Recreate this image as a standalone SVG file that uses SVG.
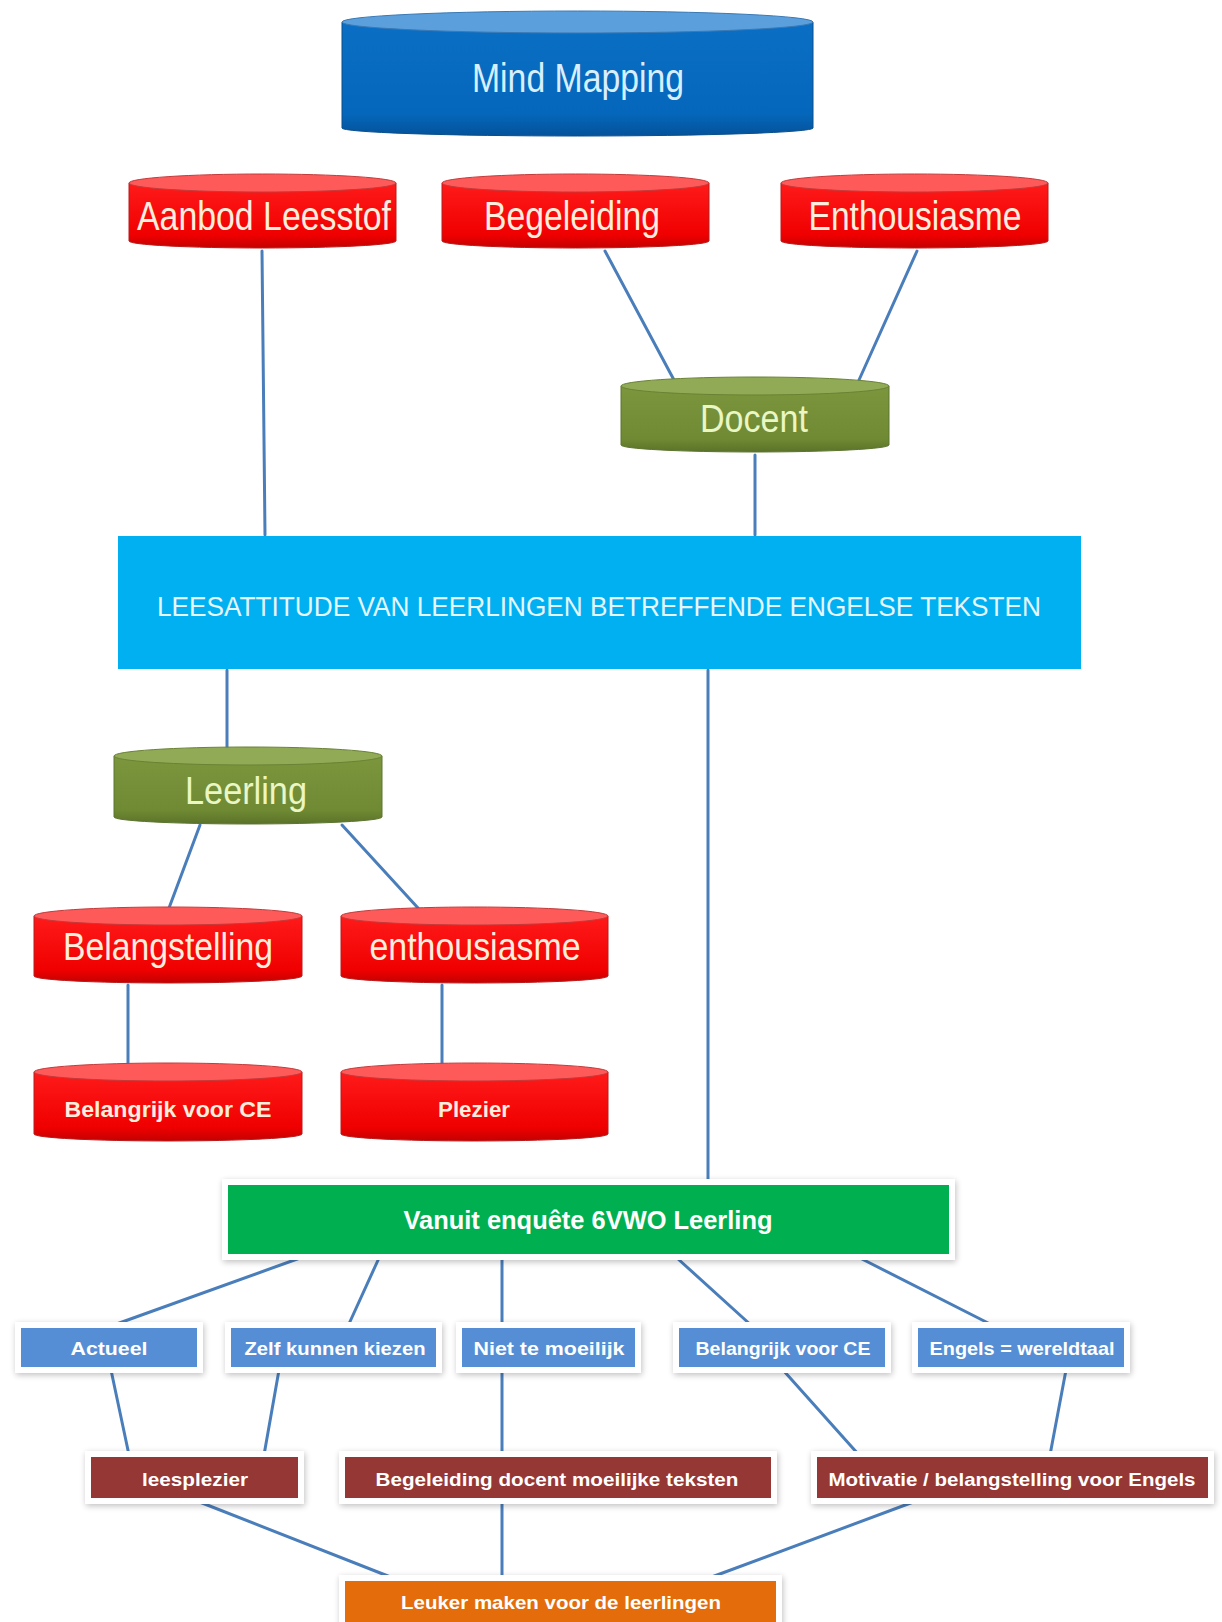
<svg xmlns="http://www.w3.org/2000/svg" width="1222" height="1622" viewBox="0 0 1222 1622">
<defs>
<filter id="sh" x="-10%" y="-30%" width="120%" height="160%">
<feGaussianBlur in="SourceAlpha" stdDeviation="3"/>
<feOffset dx="1" dy="2" result="b"/>
<feComponentTransfer><feFuncA type="linear" slope="0.25"/></feComponentTransfer>
<feMerge><feMergeNode/><feMergeNode in="SourceGraphic"/></feMerge>
</filter>
<linearGradient id="redBody" x1="0" y1="0" x2="0" y2="1">
<stop offset="0" stop-color="#ff1a1a"/><stop offset="0.8" stop-color="#f00000"/><stop offset="1" stop-color="#c40000"/>
</linearGradient>
<linearGradient id="greenBody" x1="0" y1="0" x2="0" y2="1">
<stop offset="0" stop-color="#7c963e"/><stop offset="0.8" stop-color="#6f8a33"/><stop offset="1" stop-color="#5a7228"/>
</linearGradient>
<linearGradient id="blueBody" x1="0" y1="0" x2="0" y2="1">
<stop offset="0" stop-color="#0a6fc4"/><stop offset="0.8" stop-color="#0567bb"/><stop offset="1" stop-color="#04529a"/>
</linearGradient>
</defs>
<style>
.redb{fill:url(#redBody);stroke:#b81c1c;stroke-width:1}
.redt{fill:#ff5a5a;stroke:#c43a3a;stroke-width:1}
.grnb{fill:url(#greenBody);stroke:#5d7530;stroke-width:1}
.grnt{fill:#90aa55;stroke:#6a8235;stroke-width:1}
.blub{fill:url(#blueBody);stroke:#0b4f8a;stroke-width:1}
.blut{fill:#5b9fdc;stroke:#3a79b4;stroke-width:1}
.cyl{font-family:"Liberation Sans",Arial,sans-serif;text-anchor:middle}
.rt{fill:#ffeedd}
.gt{fill:#eaf6c4}
.bt{fill:#d8efff}
.box{font-family:"Liberation Sans",Arial,sans-serif;font-weight:bold;text-anchor:middle;fill:#ffffff}
.frame{fill:#ffffff;filter:url(#sh)}
.conn line{stroke:#4a7ebb;stroke-width:3;stroke-linecap:round}
</style>

<g id="connectors" class="conn">
<line x1="262" y1="251" x2="265" y2="535"/>
<line x1="605" y1="251" x2="674" y2="380"/>
<line x1="917" y1="251" x2="859" y2="380"/>
<line x1="755" y1="455" x2="755" y2="535"/>
<line x1="227" y1="670" x2="227" y2="748"/>
<line x1="200" y1="825" x2="169" y2="908"/>
<line x1="342" y1="825" x2="418" y2="908"/>
<line x1="128" y1="985" x2="128" y2="1064"/>
<line x1="442" y1="985" x2="442" y2="1064"/>
<line x1="708" y1="670" x2="708" y2="1183"/>
<line x1="300" y1="1258" x2="111" y2="1326"/>
<line x1="379" y1="1258" x2="348" y2="1326"/>
<line x1="502" y1="1258" x2="502" y2="1326"/>
<line x1="677" y1="1258" x2="752" y2="1326"/>
<line x1="860" y1="1258" x2="994" y2="1326"/>
<line x1="111" y1="1370" x2="129" y2="1455"/>
<line x1="279" y1="1370" x2="264" y2="1455"/>
<line x1="502" y1="1370" x2="502" y2="1455"/>
<line x1="783" y1="1370" x2="859" y2="1455"/>
<line x1="1066" y1="1370" x2="1050" y2="1455"/>
<line x1="197" y1="1501" x2="393" y2="1578"/>
<line x1="502" y1="1501" x2="502" y2="1578"/>
<line x1="916" y1="1501" x2="709" y2="1578"/>
</g>

<g id="mind-mapping">
<path class="blub" d="M342,22 L342,128 A235.5,8 0 0 0 813,128 L813,22 Z"/>
<ellipse class="blut" cx="577.5" cy="22" rx="235.5" ry="11"/>
<text class="cyl bt" x="578" y="92" font-size="40" textLength="212" lengthAdjust="spacingAndGlyphs">Mind Mapping</text>
</g>

<g id="aanbod-leesstof">
<path class="redb" d="M129,183 L129,241 A133.5,7 0 0 0 396,241 L396,183 Z"/>
<ellipse class="redt" cx="262.5" cy="183" rx="133.5" ry="9"/>
<text class="cyl rt" x="264" y="230" font-size="40" textLength="254" lengthAdjust="spacingAndGlyphs">Aanbod Leesstof</text>
</g>

<g id="begeleiding">
<path class="redb" d="M442,183 L442,241 A133.5,7 0 0 0 709,241 L709,183 Z"/>
<ellipse class="redt" cx="575.5" cy="183" rx="133.5" ry="9"/>
<text class="cyl rt" x="572" y="230" font-size="40" textLength="176" lengthAdjust="spacingAndGlyphs">Begeleiding</text>
</g>

<g id="enthousiasme-top">
<path class="redb" d="M781,183 L781,241 A133.5,7 0 0 0 1048,241 L1048,183 Z"/>
<ellipse class="redt" cx="914.5" cy="183" rx="133.5" ry="9"/>
<text class="cyl rt" x="915" y="230" font-size="40" textLength="213" lengthAdjust="spacingAndGlyphs">Enthousiasme</text>
</g>

<g id="docent">
<path class="grnb" d="M621,386 L621,445 A134,7 0 0 0 889,445 L889,386 Z"/>
<ellipse class="grnt" cx="755" cy="386" rx="134" ry="9"/>
<text class="cyl gt" x="754" y="432" font-size="38" textLength="108" lengthAdjust="spacingAndGlyphs">Docent</text>
</g>

<g id="leesattitude">
<rect x="118" y="536" width="963" height="133" fill="#00b0f0"/>
<text x="599" y="616" font-family="Liberation Sans, Arial, sans-serif" font-size="27" text-anchor="middle" fill="#e6f6ff" textLength="884" lengthAdjust="spacingAndGlyphs">LEESATTITUDE VAN LEERLINGEN BETREFFENDE ENGELSE TEKSTEN</text>
</g>

<g id="leerling">
<path class="grnb" d="M114,756 L114,817 A134,7 0 0 0 382,817 L382,756 Z"/>
<ellipse class="grnt" cx="248" cy="756" rx="134" ry="9"/>
<text class="cyl gt" x="246" y="804" font-size="38" textLength="122" lengthAdjust="spacingAndGlyphs">Leerling</text>
</g>

<g id="belangstelling">
<path class="redb" d="M34,916 L34,976 A134,7 0 0 0 302,976 L302,916 Z"/>
<ellipse class="redt" cx="168" cy="916" rx="134" ry="9"/>
<text class="cyl rt" x="168" y="960" font-size="38" textLength="210" lengthAdjust="spacingAndGlyphs">Belangstelling</text>
</g>

<g id="enthousiasme">
<path class="redb" d="M341,916 L341,976 A133.5,7 0 0 0 608,976 L608,916 Z"/>
<ellipse class="redt" cx="474.5" cy="916" rx="133.5" ry="9"/>
<text class="cyl rt" x="475" y="960" font-size="38" textLength="211" lengthAdjust="spacingAndGlyphs">enthousiasme</text>
</g>

<g id="belangrijk-ce-cyl">
<path class="redb" d="M34,1072 L34,1134 A134,7 0 0 0 302,1134 L302,1072 Z"/>
<ellipse class="redt" cx="168" cy="1072" rx="134" ry="9"/>
<text class="cyl rt" x="168" y="1117" font-size="22" font-weight="bold" textLength="207" lengthAdjust="spacingAndGlyphs">Belangrijk voor CE</text>
</g>

<g id="plezier">
<path class="redb" d="M341,1072 L341,1134 A133.5,7 0 0 0 608,1134 L608,1072 Z"/>
<ellipse class="redt" cx="474.5" cy="1072" rx="133.5" ry="9"/>
<text class="cyl rt" x="474" y="1117" font-size="22" font-weight="bold" textLength="72" lengthAdjust="spacingAndGlyphs">Plezier</text>
</g>

<g id="vanuit-enquete">
<rect class="frame" x="222" y="1179" width="733" height="81"/>
<rect x="228" y="1185" width="721" height="69" fill="#00b050"/>
<text class="box" x="588" y="1229" font-size="26" fill="#f0fff0" textLength="369" lengthAdjust="spacingAndGlyphs">Vanuit enquête 6VWO Leerling</text>
</g>

<g id="actueel">
<rect class="frame" x="15" y="1322" width="188" height="51"/>
<rect x="21" y="1328" width="176" height="39" fill="#558ed5"/>
<text class="box" x="109" y="1355" font-size="19" textLength="77" lengthAdjust="spacingAndGlyphs">Actueel</text>
</g>

<g id="zelf-kiezen">
<rect class="frame" x="225" y="1322" width="217" height="51"/>
<rect x="231" y="1328" width="205" height="39" fill="#558ed5"/>
<text class="box" x="335" y="1355" font-size="19" textLength="181" lengthAdjust="spacingAndGlyphs">Zelf kunnen kiezen</text>
</g>

<g id="niet-moeilijk">
<rect class="frame" x="456" y="1322" width="185" height="51"/>
<rect x="462" y="1328" width="173" height="39" fill="#558ed5"/>
<text class="box" x="549" y="1355" font-size="19" textLength="151" lengthAdjust="spacingAndGlyphs">Niet te moeilijk</text>
</g>

<g id="belangrijk-ce-box">
<rect class="frame" x="673" y="1322" width="218" height="51"/>
<rect x="679" y="1328" width="206" height="39" fill="#558ed5"/>
<text class="box" x="783" y="1355" font-size="19" textLength="175" lengthAdjust="spacingAndGlyphs">Belangrijk voor CE</text>
</g>

<g id="engels-wereldtaal">
<rect class="frame" x="912" y="1322" width="218" height="51"/>
<rect x="918" y="1328" width="206" height="39" fill="#558ed5"/>
<text class="box" x="1022" y="1355" font-size="19" textLength="185" lengthAdjust="spacingAndGlyphs">Engels = wereldtaal</text>
</g>

<g id="leesplezier">
<rect class="frame" x="85" y="1451" width="219" height="53"/>
<rect x="91" y="1457" width="207" height="41" fill="#953735"/>
<text class="box" x="195" y="1486" font-size="19" textLength="106" lengthAdjust="spacingAndGlyphs">leesplezier</text>
</g>

<g id="begeleiding-docent">
<rect class="frame" x="339" y="1451" width="438" height="53"/>
<rect x="345" y="1457" width="426" height="41" fill="#953735"/>
<text class="box" x="557" y="1486" font-size="19" textLength="363" lengthAdjust="spacingAndGlyphs">Begeleiding docent moeilijke teksten</text>
</g>

<g id="motivatie">
<rect class="frame" x="811" y="1451" width="403" height="53"/>
<rect x="817" y="1457" width="391" height="41" fill="#953735"/>
<text class="box" x="1012" y="1486" font-size="19" textLength="367" lengthAdjust="spacingAndGlyphs">Motivatie / belangstelling voor Engels</text>
</g>

<g id="leuker-maken">
<rect class="frame" x="339" y="1575" width="443" height="53"/>
<rect x="345" y="1581" width="431" height="41" fill="#e46c0a"/>
<text class="box" x="561" y="1609" font-size="19" fill="#fff4e8" textLength="320" lengthAdjust="spacingAndGlyphs">Leuker maken voor de leerlingen</text>
</g>
</svg>
